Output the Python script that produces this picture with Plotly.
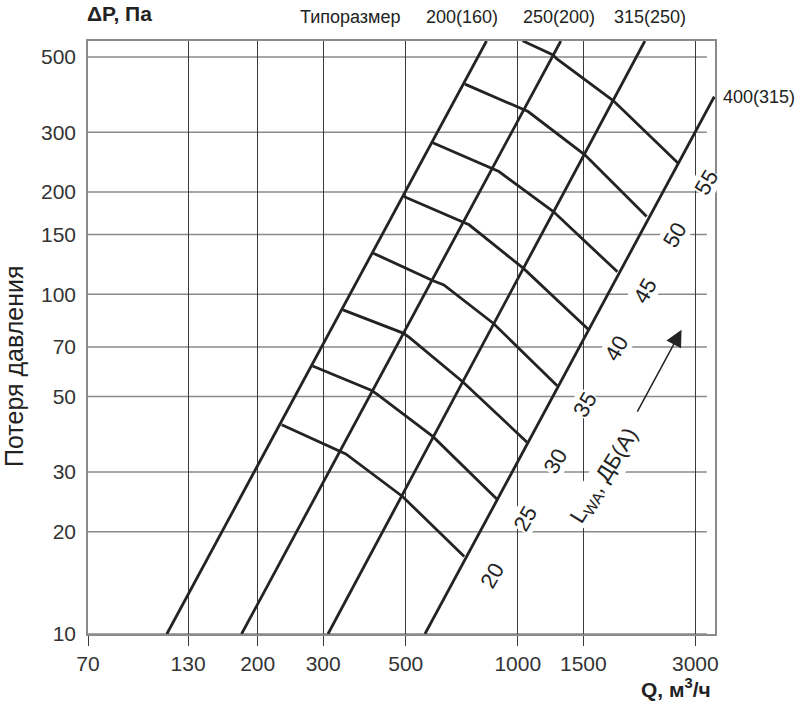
import math
import plotly.graph_objects as go

# типоразмеры: прямые потерь давления (Q, м3/ч -> ΔP, Па)
tiporazmer = ["200(160)", "250(200)", "315(250)", "400(315)"]
liniya_q = [[114, 824], [181, 1305], [309, 2195], [563, 3372]]
liniya_dp = [[10, 557], [10, 557], [10, 557], [10, 382]]

# кривые уровня звуковой мощности LwA, дБ(А)
uroven_db = [20, 25, 30, 35, 40, 45, 50, 55]
shum_q = [
    [232, 332, 345, 490, 718],
    [281, 405, 421, 592, 881],
    [339, 492, 511, 711, 1059],
    [409, 590, 633, 859, 1276],
    [494, 713, 740, 1034, 1546],
    [591, 852, 890, 1246, 1852],
    [721, 1040, 1066, 1514, 2219],
    [1030, 1240, 1274, 1804, 2698],
]
shum_dp = [
    [41.3, 34.7, 33.9, 25.4, 16.9],
    [61.5, 52.1, 50.6, 38.1, 24.9],
    [90.0, 76.9, 74.7, 55.3, 36.7],
    [132.2, 109.8, 106.6, 82.2, 53.8],
    [194.1, 163.2, 160.2, 119.4, 78.9],
    [279.3, 235.7, 229.9, 175.3, 116.5],
    [415.8, 351.0, 345.3, 257.4, 169.4],
    [557.8, 507.3, 493.6, 372.1, 243.3],
]

x_ticks = [70, 130, 200, 300, 500, 1000, 1500, 3000]
y_ticks = [10, 20, 30, 50, 70, 100, 150, 200, 300, 500]

FONT = "Liberation Sans, Arial, sans-serif"
LINE = "#232323"
GRID_H = "#8a8a8a"
GRID_V = "#3a3a3a"


def main():
    fig = go.Figure()

    for q, dp in zip(liniya_q, liniya_dp):
        fig.add_trace(go.Scatter(x=q, y=dp, mode="lines",
                                 line=dict(color=LINE, width=2.8), hoverinfo="skip"))

    for q, dp in zip(shum_q, shum_dp):
        fig.add_trace(go.Scatter(x=q, y=dp, mode="lines",
                                 line=dict(color=LINE, width=2.8), hoverinfo="skip"))

    # горизонтальная сетка не доходит до правой рамки
    for v in y_ticks:
        fig.add_shape(type="line", xref="paper", yref="y", x0=0, x1=0.987, y0=v, y1=v,
                      line=dict(color=GRID_H, width=1.5), layer="below")

    # подписи дБ у концов кривых
    for db, q, dp in zip(uroven_db, shum_q, shum_dp):
        fig.add_annotation(x=math.log10(q[-1]), y=math.log10(dp[-1]), text=str(db),
                           showarrow=False, textangle=-60, xshift=28, yshift=-19,
                           bgcolor="white", borderpad=0,
                           font=dict(family=FONT, size=22, color="#222"))

    # подписи типоразмеров
    sdvig = [-25, -2, 5]
    for name, q, s in zip(tiporazmer[:3], liniya_q[:3], sdvig):
        fig.add_annotation(x=math.log10(q[1]), y=1.04, yref="paper", yanchor="middle",
                           text=name, showarrow=False, xshift=s,
                           font=dict(family=FONT, size=18, color="#222"))
    fig.add_annotation(x=math.log10(liniya_q[3][1]), y=math.log10(liniya_dp[3][1]),
                       text=tiporazmer[3], showarrow=False, xanchor="left", yanchor="middle",
                       xshift=7, font=dict(family=FONT, size=18, color="#222"))
    fig.add_annotation(x=0.418, y=1.04, xref="paper", yref="paper", text="Типоразмер",
                       showarrow=False, xanchor="center", yanchor="middle",
                       font=dict(family=FONT, size=18, color="#222"))

    # стрелка LwA
    fig.add_annotation(x=math.log10(2755), y=math.log10(78.6), ax=math.log10(2085),
                       ay=math.log10(44.7), axref="x", ayref="y", text="",
                       showarrow=True, arrowhead=2, arrowsize=2.2, arrowwidth=1.5,
                       arrowcolor="#222")
    fig.add_annotation(x=math.log10(1714), y=math.log10(29.2),
                       text="L<sub>WA</sub>, ДБ(А)", showarrow=False, textangle=-58,
                       bgcolor="white", font=dict(family=FONT, size=22, color="#222"))

    fig.add_annotation(x=-0.005, y=1.047, xref="paper", yref="paper", text="<b>ΔP, Па</b>",
                       showarrow=False, xanchor="left", yanchor="middle",
                       font=dict(family=FONT, size=21, color="#222"))
    fig.add_annotation(x=0.997, y=-0.117, xref="paper", yref="paper", text="<b>Q, м<sup>3</sup>/ч</b>",
                       showarrow=False, xanchor="right", yanchor="bottom",
                       font=dict(family=FONT, size=21, color="#222"))
    fig.add_annotation(x=-0.118, y=0.452, xref="paper", yref="paper", text="Потеря давления",
                       showarrow=False, textangle=-90, xanchor="center", yanchor="middle",
                       font=dict(family=FONT, size=25, color="#222"))

    fig.update_xaxes(type="log", range=[math.log10(70), math.log10(3388)],
                     tickvals=x_ticks, ticktext=[str(t) for t in x_ticks],
                     showgrid=True, gridcolor=GRID_V, gridwidth=1,
                     ticks="outside", ticklen=10, tickcolor=GRID_V, tickwidth=1,
                     showline=True, linecolor=GRID_H, linewidth=1.5, mirror=True,
                     zeroline=False, tickfont=dict(family=FONT, size=21, color="#333"))
    fig.update_yaxes(type="log", range=[1, math.log10(557)],
                     tickvals=y_ticks, ticktext=[str(t) for t in y_ticks],
                     showgrid=False, ticks="", ticklabelstandoff=6,
                     showline=True, linecolor=GRID_H, linewidth=1.5, mirror=True,
                     zeroline=False, tickfont=dict(family=FONT, size=21, color="#333"))

    fig.update_layout(width=800, height=709, showlegend=False,
                      margin=dict(l=88, r=85, t=41, b=75),
                      plot_bgcolor="white", paper_bgcolor="white")

    # убрать стандартный отступ body, чтобы график встал в угол окна
    fig.write_html("out.html", config={"displayModeBar": False},
                   post_script="document.body.style.margin='0';")


if __name__ == "__main__":
    main()
